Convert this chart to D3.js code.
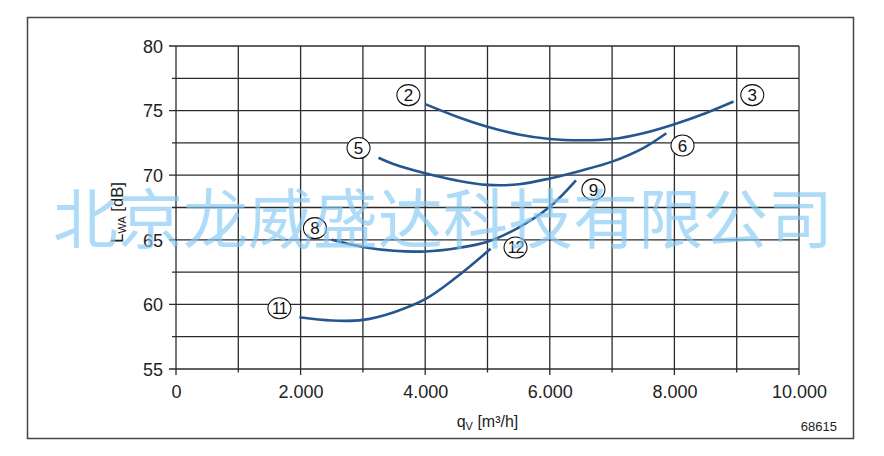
<!DOCTYPE html>
<html><head><meta charset="utf-8">
<script src="https://cdn.jsdelivr.net/npm/d3@7/dist/d3.min.js"></script>
<style>
html,body{margin:0;padding:0;background:#fff;}
svg{display:block;font-family:"Liberation Sans",Arial,sans-serif;}
</style></head>
<body>
<svg id="chart" width="884" height="456"></svg>
<script>
// ---- data ----
const xTickValues = [0, 2000, 4000, 6000, 8000, 10000];
const xTickLabels = ["0", "2.000", "4.000", "6.000", "8.000", "10.000"];
const yTickValues = [55, 60, 65, 70, 75, 80];
const yTickLabels = ["55", "60", "65", "70", "75", "80"];
const xGridValues = [0,1000,2000,3000,4000,5000,6000,7000,8000,9000,10000];
const yGridValues = [55,57.5,60,62.5,65,67.5,70,72.5,75,77.5,80];

const curveA_x = [4000, 4500, 5000, 5500, 6000, 6500, 7000, 7500, 8000, 8500, 8950];
const curveA_y = [75.5, 74.55, 73.75, 73.15, 72.8, 72.7, 72.8, 73.25, 73.95, 74.8, 75.7];
const curveB_x = [3250, 3500, 4000, 4500, 5000, 5500, 6000, 6500, 7000, 7500, 7870];
const curveB_y = [71.35, 70.85, 70.15, 69.6, 69.25, 69.3, 69.75, 70.35, 71.05, 72.1, 73.25];
const curveC_x = [2500, 3000, 3500, 4000, 4500, 5000, 5500, 6000, 6420];
const curveC_y = [65.0, 64.45, 64.15, 64.1, 64.35, 64.85, 65.95, 67.55, 69.6];
const curveD_x = [1980, 2500, 3000, 3500, 4000, 4500, 5050];
const curveD_y = [59.0, 58.75, 58.8, 59.4, 60.4, 62.1, 64.3];

const labelNames = ["2", "3", "5", "6", "8", "9", "11", "12"];
const labelX = [3730, 9250, 2930, 8130, 2230, 6700, 1660, 5450];
const labelY = [76.2, 76.2, 72.1, 72.3, 65.9, 68.9, 59.7, 64.4];

const xTitle = "q";
const yTitle = "L";
const codeText = "68615";
const watermark = "北京龙威盛达科技有限公司";

// ---- layout ----
const svg = d3.select("#chart");
const L = 176, R = 799, T = 46, B = 369;
const x = d3.scaleLinear().domain([0, 10000]).range([L, R]);
const y = d3.scaleLinear().domain([55, 80]).range([B, T]);

// outer frame
svg.append("rect").attr("x", 27.5).attr("y", 17.5).attr("width", 826).attr("height", 421)
  .attr("fill", "none").attr("stroke", "#444").attr("stroke-width", 1.5);

// grid
const grid = svg.append("g").attr("stroke", "#2b2b2b").attr("stroke-width", 1.3);
grid.selectAll("line.v").data(xGridValues).join("line")
  .attr("x1", d => x(d)).attr("x2", d => x(d))
  .attr("y1", T).attr("y2", d => B + (d % 2000 === 0 ? 6 : 3.5));
grid.selectAll("line.h").data(yGridValues).join("line")
  .attr("y1", d => y(d)).attr("y2", d => y(d))
  .attr("x1", d => L - (d % 5 === 0 ? 7 : 4)).attr("x2", R);

// axes labels
const xAxis = d3.axisBottom(x).tickValues(xTickValues).tickFormat((d, i) => xTickLabels[i]).tickSize(0).tickPadding(0);
const gx = svg.append("g").attr("transform", `translate(0,${B})`).call(xAxis);
gx.select(".domain").remove();
gx.selectAll("text").attr("font-size", 18).attr("fill", "#222").attr("y", 29).attr("dy", 0)
  .attr("font-family", "Liberation Sans, Arial, sans-serif");

const yAxis = d3.axisLeft(y).tickValues(yTickValues).tickFormat((d, i) => yTickLabels[i]).tickSize(0).tickPadding(0);
const gy = svg.append("g").attr("transform", `translate(${L},0)`).call(yAxis);
gy.select(".domain").remove();
gy.selectAll("text").attr("font-size", 18).attr("fill", "#222").attr("x", -13).attr("dy", "0.35em")
  .attr("font-family", "Liberation Sans, Arial, sans-serif");

// axis titles
const xt = svg.append("text").attr("x", (L + R) / 2).attr("y", 427).attr("text-anchor", "middle")
  .attr("font-size", 16).attr("fill", "#222");
xt.append("tspan").text(xTitle);
xt.append("tspan").text("V").attr("font-size", 11).attr("dy", 3);
xt.append("tspan").text(" [m³/h]").attr("dy", -3);

const yt = svg.append("text").attr("transform", `translate(123,${(T + B) / 2 + 5}) rotate(-90)`)
  .attr("text-anchor", "middle").attr("font-size", 16.5).attr("fill", "#222");
yt.append("tspan").text(yTitle);
yt.append("tspan").text("WA").attr("font-size", 11).attr("dy", 3);
yt.append("tspan").text(" [dB]").attr("dy", -3);

svg.append("text").attr("x", 837).attr("y", 431).attr("text-anchor", "end")
  .attr("font-size", 13).attr("fill", "#222").text(codeText);

// curves
const line = d3.line().x(d => x(d[0])).y(d => y(d[1])).curve(d3.curveCatmullRom.alpha(0.5));
const curves = [[curveA_x, curveA_y], [curveB_x, curveB_y], [curveC_x, curveC_y], [curveD_x, curveD_y]];
svg.append("g").selectAll("path").data(curves).join("path")
  .attr("d", c => line(c[0].map((v, i) => [v, c[1][i]])))
  .attr("fill", "none").attr("stroke", "#255690").attr("stroke-width", 2.6).attr("stroke-linecap", "butt");

// labels
const lg = svg.append("g").selectAll("g").data(labelNames).join("g")
  .attr("transform", (d, i) => `translate(${x(labelX[i])},${y(labelY[i])})`);
lg.append("ellipse").attr("rx", 11.5).attr("ry", 10.5).attr("fill", "#fff").attr("stroke", "#111").attr("stroke-width", 1.1);
lg.append("text").attr("text-anchor", "middle").attr("dy", "0.36em")
  .attr("font-size", d => d.length > 1 ? 16 : 17).attr("letter-spacing", d => d.length > 1 ? -1 : 0)
  .attr("fill", "#111").text(d => d);

// watermark
svg.append("text").attr("x", 443).attr("y", 243).attr("text-anchor", "middle")
  .attr("font-family", "Noto Sans CJK SC, sans-serif").attr("font-weight", 400)
  .attr("font-size", 65).attr("fill", "rgb(130,200,242)").attr("fill-opacity", 0.65)
  .text(watermark);
</script>
</body></html>
